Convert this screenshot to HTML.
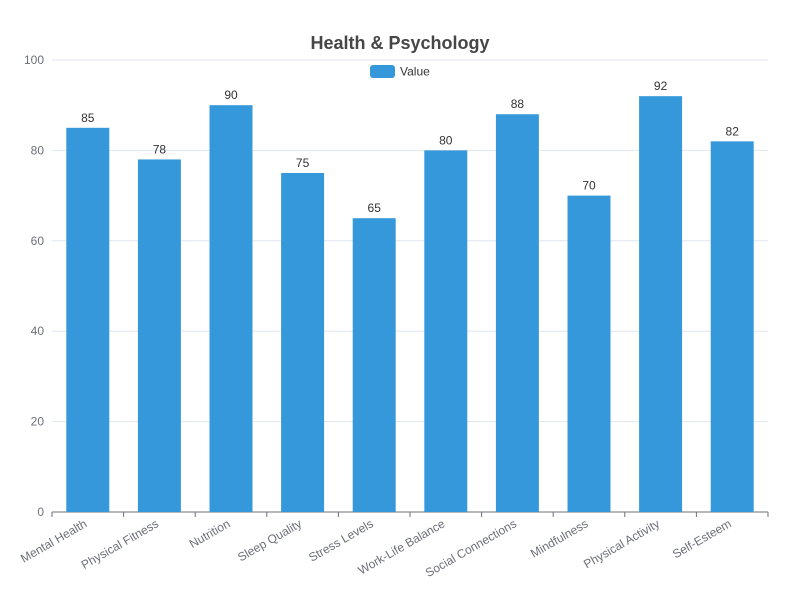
<!DOCTYPE html>
<html><head><meta charset="utf-8"><style>
body{margin:0;background:#fff;}
svg{display:block;font-family:"Liberation Sans",sans-serif;}
</style></head><body>
<svg id="chart" width="800" height="600">
<text x="400" y="49" text-anchor="middle" font-size="18" font-weight="bold" fill="#464646">Health &amp; Psychology</text>
<g>
<rect x="370" y="65" width="25" height="13" rx="3" fill="#3498db"/>
<text x="400" y="75.5" font-size="12" fill="#333">Value</text>
</g>
<g id="grid"></g><g id="bars"></g><g id="axes"></g>
</svg>
<script>
const categories=["Mental Health","Physical Fitness","Nutrition","Sleep Quality","Stress Levels","Work-Life Balance","Social Connections","Mindfulness","Physical Activity","Self-Esteem"];
const values=[85,78,90,75,65,80,88,70,92,82];
const yTicks=[0,20,40,60,80,100];
const L=52,R=768,T=60,B=512,yMax=100;
const NS="http://www.w3.org/2000/svg";
const band=(R-L)/categories.length;
const y=v=>B-(v/yMax)*(B-T);
const xc=i=>L+band*(i+0.5);
function mk(tag,attrs,parent,txt){const e=document.createElementNS(NS,tag);for(const k in attrs)e.setAttribute(k,attrs[k]);if(txt!=null)e.textContent=txt;parent.appendChild(e);return e;}
const grid=document.getElementById('grid'),bars=document.getElementById('bars'),axes=document.getElementById('axes');
yTicks.forEach(t=>{
  const l=mk('line',{x1:L,x2:R,y1:y(t),y2:y(t),stroke:t===0?'#6e7079':'#e0e6f1','stroke-width':1},grid);
  
  
  const tx=mk('text',{x:L-8,y:y(t)+4,'text-anchor':'end','font-size':12,fill:'#6e7079'},axes,t);
  
  
});
const bw=band*0.6;
values.forEach((v,i)=>{
  const r=mk('rect',{x:xc(i)-bw/2,y:y(v),width:bw,height:B-y(v),fill:'#3498db'},bars);
  
  
  const lb=mk('text',{x:xc(i),y:y(v)-6,'text-anchor':'middle','font-size':12,fill:'#333'},bars,v);
  
  
});
for(let i=0;i<=categories.length;i++){
  const tk=mk('line',{x1:L+band*i,x2:L+band*i,y1:B,y2:B+5,stroke:'#6e7079'},axes);
  
  
}
categories.forEach((c,i)=>{
  const x=xc(i),yy=B+14;
  const t=mk('text',{x:x,y:yy,'text-anchor':'end','font-size':12,fill:'#6e7079',transform:`rotate(-30 ${x} ${yy})`},axes,c);
  
  
});
</script>
</body></html>
